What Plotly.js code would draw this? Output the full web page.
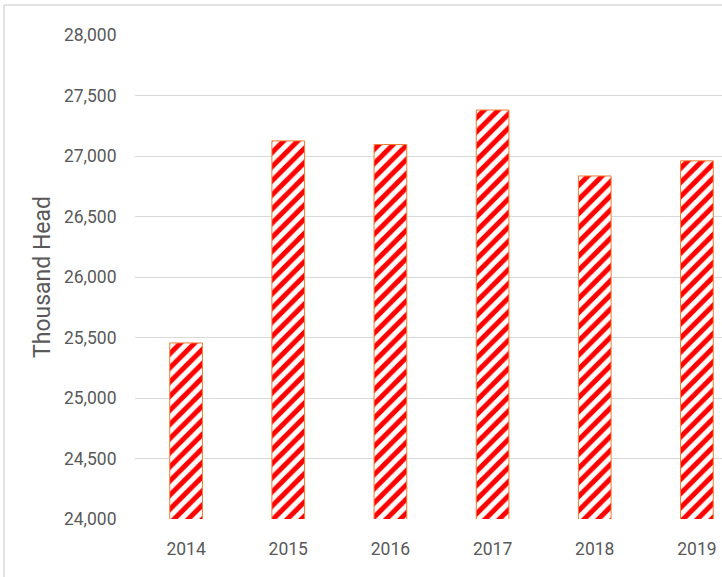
<!DOCTYPE html>
<html>
<head>
<meta charset="utf-8">
<script src="https://cdn.plot.ly/plotly-3.0.1.min.js"></script>
<style>
  html, body { margin: 0; padding: 0; background: #ffffff; overflow: hidden; width: 722px; height: 577px; }
  #chart { width: 760px; height: 577px; }
</style>
</head>
<body>
<div id="chart"></div>
<script>
// Data
const years = ['2014', '2015', '2016', '2017', '2018', '2019'];
const thousandHead = [25455, 27125, 27095, 27380, 26835, 26960];
const yTickValues = [24000, 24500, 25000, 25500, 26000, 26500, 27000, 27500, 28000];
const yTickLabels = ['24,000', '24,500', '25,000', '25,500', '26,000', '26,500', '27,000', '27,500', '28,000'];

const fontFamily = 'Roboto, "Open Sans", sans-serif';
const tickFont = { family: fontFamily, size: 17.5, color: '#595959' };

const trace = {
  type: 'bar',
  x: years,
  y: thousandHead,
  marker: {
    color: '#ffffff',
    line: { color: '#ED7D31', width: 1 },
    pattern: { shape: '/', fgcolor: '#FF0000', bgcolor: '#ffffff', size: 10, solidity: 0.5, fillmode: 'replace' }
  },
  hoverinfo: 'x+y'
};

const layout = {
  width: 760,
  height: 577,
  margin: { l: 135, r: 12, t: 35, b: 58 },
  paper_bgcolor: '#ffffff',
  plot_bgcolor: '#ffffff',
  showlegend: false,
  bargap: 0.68,
  xaxis: {
    type: 'category',
    tickfont: tickFont,
    ticks: 'outside',
    ticklen: 14,
    tickcolor: 'rgba(0,0,0,0)',
    showgrid: false,
    showline: false,
    zeroline: false
  },
  yaxis: {
    range: [24000, 28000],
    tickvals: yTickValues,
    ticktext: yTickLabels,
    tickfont: tickFont,
    ticks: 'outside',
    ticklen: 14,
    tickcolor: 'rgba(0,0,0,0)',
    showgrid: true,
    gridcolor: '#d9d9d9',
    gridwidth: 1,
    zeroline: false,
    showline: false,
    title: {
      text: 'Thousand Head',
      font: { family: fontFamily, size: 23, color: '#595959' },
      standoff: 6
    }
  },
  shapes: [
    {
      type: 'line', xref: 'paper', yref: 'paper', layer: 'below',
      x0: -131 / 613, x1: 2, y0: 1 + 30 / 484, y1: 1 + 30 / 484,
      line: { color: '#d9d9d9', width: 1.5 }
    },
    {
      type: 'line', xref: 'paper', yref: 'paper', layer: 'below',
      x0: -131 / 613, x1: -131 / 613, y0: 1 + 30 / 484, y1: -1,
      line: { color: '#d9d9d9', width: 1.5 }
    }
  ]
};

Plotly.newPlot('chart', [trace], layout, { displayModeBar: false, staticPlot: true });
</script>
</body>
</html>
